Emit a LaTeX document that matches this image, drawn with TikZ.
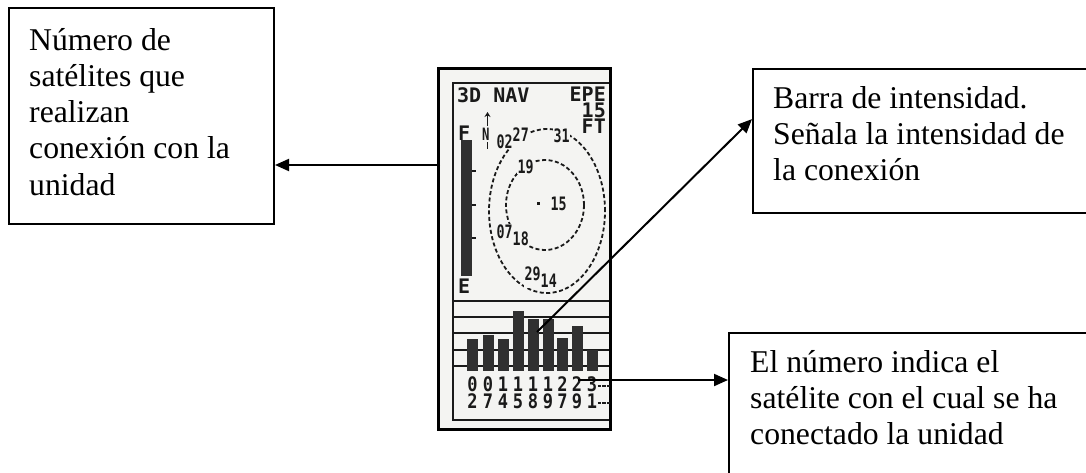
\documentclass[tikz,border=0pt]{standalone}
\usepackage{fontspec}
\setmainfont{Liberation Serif}
\newfontfamily\lcd{DejaVu Sans Mono}
\newfontfamily\lcdn{DejaVu Sans Mono}[FakeStretch=0.72]
\newfontfamily\lcdd{DejaVu Sans Mono}[FakeStretch=0.85]
\usetikzlibrary{arrows.meta,calc}
\definecolor{scrbg}{HTML}{F4F4F2}
\definecolor{ink}{HTML}{1A1A1A}
\definecolor{barc}{HTML}{303030}
\tikzset{
  box/.style={draw=black,line width=2pt,fill=white,inner sep=0pt,anchor=north west},
  txt/.style={anchor=base west,inner sep=0pt,font=\fontsize{31.7}{36.4}\selectfont},
  arr/.style={line width=2pt,-{Triangle[length=14pt,width=12pt]}},
  lcdbig/.style={inner sep=0pt,text=ink,font=\lcd\bfseries\fontsize{20}{16}\selectfont},
  lcdsat/.style={inner sep=0.5pt,fill=scrbg,text=ink,anchor=base west,font=\lcdn\bfseries\fontsize{18.5}{18.5}\selectfont},
  lcddig/.style={inner sep=0pt,text=ink,anchor=north,align=center,font=\lcdd\bfseries\fontsize{20}{17}\selectfont},
  ring/.style={draw=ink,line width=1.8pt,dash pattern=on 4pt off 2.5pt},
  grid/.style={draw=ink,line width=1.8pt}
}
\begin{document}
\begin{tikzpicture}[x=1pt,y=-1pt]
\clip (0,0) rectangle (1086,472);
\fill[white] (0,0) rectangle (1086,472);

% ---------- text boxes ----------
\node[box,minimum width=265pt,minimum height=216pt] (boxL) at (8,7) {};
\node[txt] (l1) at (29,50) {Número de};
\node[txt] (l2) at (29,86.3) {satélites que};
\node[txt] (l3) at (29,122.6) {realizan};
\node[txt] (l4) at (29,158.9) {conexión con la};
\node[txt] (l5) at (29,195.2) {unidad};

\node[box,minimum width=350pt,minimum height=144pt] (boxR) at (752,68) {};
\node[txt] (r1) at (773,108) {Barra de intensidad.};
\node[txt] (r2) at (773,144.3) {Señala la intensidad de};
\node[txt] (r3) at (773,180.6) {la conexión};

\node[box,minimum width=370pt,minimum height=160pt] (boxB) at (728,332) {};
\node[txt] (b1) at (750,372) {El número indica el};
\node[txt] (b2) at (750,408.3) {satélite con el cual se ha};
\node[txt] (b3) at (750,444.6) {conectado la unidad};

% ---------- GPS screen ----------
\node[draw=black,line width=3pt,fill=scrbg,minimum width=172pt,minimum height=361pt,inner sep=0pt,anchor=north west] (scr) at (437,67) {};
\draw[grid] (609,83) -- (453,83) -- (453,420) -- (609,420);

\node[lcdbig,anchor=base west] (nav) at (457,102) {3D NAV};
\node[lcdbig,anchor=north east,align=right] (epe) at (606,87) {EPE\\15\\FT};
\node[lcdbig,anchor=base west] (full) at (458,140) {F};
\node[lcdbig,anchor=base west] (empty) at (458,293) {E};
\node[lcdbig,anchor=base west,font=\lcdn\bfseries\fontsize{17}{17}\selectfont] (north) at (482,140) {N};
\draw[ink,line width=1.6pt,-{Stealth[length=5pt,width=6pt]}] (487.5,126) -- ++(0,-14);
\draw[ink,line width=1.6pt] (487.5,142) -- ++(0,7);

% signal strength column
\fill[barc] (460.5,140) rectangle (472,276);
\foreach \yy in {171,205,238} \draw[ink,line width=1.6pt] (472,\yy) -- (476,\yy);

% sky view rings
\draw[ring] (547,211) ellipse [x radius=58pt,y radius=82pt];
\draw[ring] (545,205) ellipse [x radius=39pt,y radius=45pt];
\fill[ink] (536.5,201.5) rectangle (539.5,204.5);

\node[lcdsat] (s02) at (496,148) {02\raisebox{7pt}{27}};
\node[lcdsat] (s31) at (553,142) {31};
\node[lcdsat] (s19) at (517,173) {19};
\node[lcdsat] (s15) at (550,210) {15};
\node[lcdsat] (s07) at (496,238) {07\raisebox{-7pt}{18}};
\node[lcdsat] (s29) at (524,280) {29\raisebox{-7pt}{14}};

% bar graph
\foreach \yy in {301,317,333,350,366} \draw[grid] (453,\yy) -- (609,\yy);
\foreach \cx/\top in {472.5/339,488/335,503/339,518/311,533/319,548/319,562.5/338,577/326,592/350}{
  \fill[barc] (\cx-5.5,\top) rectangle (\cx+5.5,371);
}
\foreach \cx/\da/\db [count=\i] in {472.5/0/2,488/0/7,503/1/4,518/1/5,533/1/8,548/1/9,562.5/2/7,577/2/9,592/3/1}{
  \node[lcddig] (d\i) at (\cx,376.5) {\da\\\db};
}
\foreach \yy in {386,403}{
  \foreach \xx in {599.5,604,608.5} \draw[ink,line width=1.8pt] (\xx-1.6,\yy) -- (\xx+1.6,\yy);
}

% ---------- connectors ----------
\coordinate (p1) at (440,165);
\coordinate (p2) at (537,332);
\coordinate (p3) at (578,380);
\draw[arr] (p1) -- (p1 -| boxL.east);
\draw[arr] (p2) -- ($(boxR.north west)!0.35!(boxR.south west)$);
\draw[arr] (p3) -- (p3 -| boxB.west);
\end{tikzpicture}
\end{document}
